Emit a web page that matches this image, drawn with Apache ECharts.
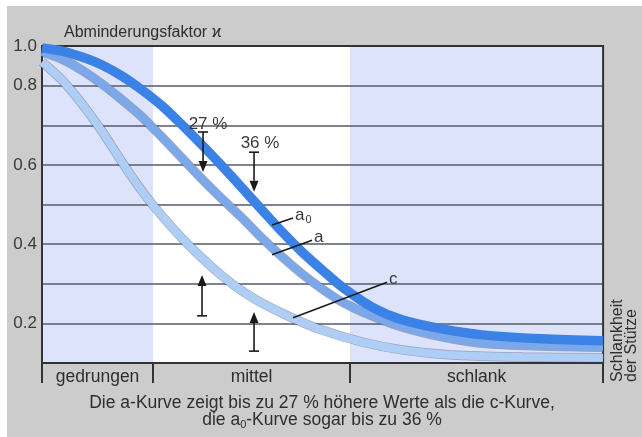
<!DOCTYPE html>
<html>
<head>
<meta charset="utf-8">
<script src="https://cdn.jsdelivr.net/npm/echarts@6/dist/echarts.min.js"></script>
<style>
  body { margin: 0; background: #fff; }
  #wrap { position: relative; width: 642px; height: 437px; }
  #backdrop { position: absolute; left: 7px; top: 6px; right: 0; bottom: 0; background: #cccccc; }
  #chart { position: absolute; left: 0; top: 0; width: 642px; height: 437px; }
</style>
</head>
<body>
<div id="wrap"><div id="backdrop"></div><div id="chart"></div></div>
<script>
// Schematic buckling curves: reduction factor vs. slenderness
var FONT = "'Liberation Sans', Arial, sans-serif";

var regionEdges = [0, 11.1, 30.8, 56.1];
var regionNames = ["gedrungen", "mittel", "schlank"];
var regionColors = ["#dde3fb", "#ffffff", "#dde3fb"];

// y ticks every 0.1 from 0.1 to 0.9, the top one is labelled 1.0
var yTickLabels = ["", "0.2", "", "0.4", "", "0.6", "", "0.8", "1.0"];

var slenderness = [0, 2, 4, 6, 8, 10, 12, 14, 16, 18, 20, 22, 24, 26, 28, 30, 33, 36, 40, 44, 50, 56.1];
var kappaA0 = [0.895, 0.887, 0.872, 0.852, 0.824, 0.789, 0.749, 0.701, 0.650, 0.597, 0.542,
  0.486, 0.431, 0.380, 0.335, 0.292, 0.241, 0.209, 0.186, 0.171, 0.161, 0.156];
var kappaA = [0.885, 0.867, 0.839, 0.804, 0.764, 0.721, 0.670, 0.617, 0.564, 0.514, 0.466,
  0.415, 0.368, 0.325, 0.287, 0.254, 0.219, 0.191, 0.166, 0.150, 0.143, 0.140];

var slendernessC = [0, 2, 4, 6, 8, 10, 12, 14, 16, 18, 20, 22, 25, 28, 32, 36, 41, 48, 56.1];
var kappaC = [0.860, 0.814, 0.754, 0.685, 0.607, 0.534, 0.471, 0.415, 0.365, 0.320, 0.282,
  0.251, 0.214, 0.183, 0.153, 0.133, 0.120, 0.115, 0.113];

// arrows: [x, y of tail bar, y of tip]
var arrows = [[16.1, 0.683, 0.582], [21.2, 0.632, 0.532], [16.0, 0.219, 0.322], [21.2, 0.130, 0.229]];
var percentPos = [[16.6, 0.703], [21.8, 0.655]];
var percentText = ["27 %", "36 %"];

// leader lines: [x1, y1, x2, y2] and the curve names at their ends
var leaders = [[23.0, 0.448, 25.1, 0.466], [23.0, 0.373, 27.0, 0.410], [25.1, 0.214, 34.5, 0.304]];
var leaderText = ["a{sub|0}", "a", "c"];

function pairs(xs, ys) {
  return xs.map(function (x, i) { return [x, ys[i]]; });
}

var chart = echarts.init(document.getElementById("chart"));

var regionAreas = regionNames.map(function (name, i) {
  return [{ xAxis: regionEdges[i], itemStyle: { color: regionColors[i] } }, { xAxis: regionEdges[i + 1] }];
});
var regionMids = regionNames.map(function (name, i) {
  return (regionEdges[i] + regionEdges[i + 1]) / 2;
});

function renderArrow(params, api) {
  var tail = api.coord([api.value(0), api.value(1)]);
  var tip = api.coord([api.value(0), api.value(2)]);
  var dir = tip[1] > tail[1] ? 1 : -1;
  var headLen = 11, headHalf = 4.5, barHalf = 5;
  var st = { stroke: "#1a1a1a", lineWidth: 1.6 };
  return {
    type: "group",
    children: [
      { type: "line", shape: { x1: tail[0], y1: tail[1], x2: tip[0], y2: tip[1] - dir * headLen }, style: st },
      { type: "line", shape: { x1: tail[0] - barHalf, y1: tail[1], x2: tail[0] + barHalf, y2: tail[1] }, style: st },
      { type: "polygon", shape: { points: [[tip[0], tip[1]], [tip[0] - headHalf, tip[1] - dir * headLen], [tip[0] + headHalf, tip[1] - dir * headLen]] },
        style: { fill: "#1a1a1a" } }
    ]
  };
}

function renderLeader(params, api) {
  var p1 = api.coord([api.value(0), api.value(1)]);
  var p2 = api.coord([api.value(2), api.value(3)]);
  return {
    type: "group",
    children: [
      { type: "line", shape: { x1: p1[0], y1: p1[1], x2: p2[0], y2: p2[1] }, style: { stroke: "#1a1a1a", lineWidth: 1.6 } },
      { type: "text", style: {
          text: leaderText[params.dataIndex], x: p2[0] + 2, y: p2[1] - 3,
          fill: "#3a3a3a", fontSize: 17, fontFamily: FONT, align: "left", verticalAlign: "middle",
          rich: { sub: { fontSize: 11, fontFamily: FONT, fill: "#3a3a3a", padding: [9, 0, 0, 1] } }
        } }
    ]
  };
}

function renderPercent(params, api) {
  var p = api.coord([api.value(0), api.value(1)]);
  return { type: "text", style: {
    text: percentText[params.dataIndex], x: p[0], y: p[1],
    fill: "#3a3a3a", fontSize: 17, fontFamily: FONT, align: "center", verticalAlign: "middle"
  } };
}

function curve(xs, ys, color, width) {
  return { type: "line", data: pairs(xs, ys), smooth: 0.3, showSymbol: false, silent: true,
    lineStyle: { color: color, width: width } };
}

var option = {
  animation: false,
  textStyle: { fontFamily: FONT },
  title: {
    text: "Abminderungsfaktor ϰ", left: 59, top: 20,
    textStyle: { fontSize: 16, fontWeight: "normal", color: "#2e2e2e", fontFamily: FONT }
  },
  grid: { left: 42, right: 38.9, top: 46, bottom: 74, show: true, z: 3,
    backgroundColor: "transparent", borderColor: "#333", borderWidth: 2 },
  xAxis: {
    type: "value", min: regionEdges[0], max: regionEdges[3], z: 1.6,
    splitLine: { show: false },
    axisLine: { show: true, lineStyle: { color: "#333", width: 2 } },
    axisTick: { show: true, customValues: regionEdges, length: 20, lineStyle: { color: "#333", width: 2 } },
    axisLabel: { customValues: regionMids, margin: 5, fontSize: 17.5, color: "#2e2e2e", fontFamily: FONT,
      formatter: function (v) {
        var i = regionMids.findIndex(function (m) { return Math.abs(m - v) < 1e-6; });
        return i >= 0 ? regionNames[i] : "";
      } }
  },
  yAxis: {
    type: "value", min: 0.1, max: 0.9, interval: 0.1, z: 1.5,
    axisLine: { show: true, lineStyle: { color: "#333", width: 2 } },
    axisTick: { show: false },
    splitLine: { show: true, lineStyle: { color: "rgba(95,100,115,0.8)", width: 1.8 } },
    axisLabel: { margin: 5, fontSize: 17, color: "#3a3a3a", fontFamily: FONT,
      formatter: function (v) { return yTickLabels[Math.round((v - 0.1) / 0.1)] || ""; } }
  },
  graphic: [
    { type: "text", x: 611, y: 382, rotation: Math.PI / 2,
      style: { text: "Schlankheit\nder Stütze", fill: "#2e2e2e", fontSize: 16, fontFamily: FONT, lineHeight: 14 } },
    { type: "text", x: 322, y: 395,
      style: { text: "Die a-Kurve zeigt bis zu 27 % höhere Werte als die c-Kurve,\ndie a{sub|0}-Kurve sogar bis zu 36 %",
        fill: "#2e2e2e", fontSize: 17.5, fontFamily: FONT, lineHeight: 17, align: "center",
        rich: { sub: { fontSize: 11, fontFamily: FONT, fill: "#2e2e2e", padding: [8, 0, 0, 0] } } } }
  ],
  series: [
    { type: "line", data: [], markArea: { silent: true, z: 1, data: regionAreas } },
    curve(slendernessC, kappaC, "rgba(70,80,110,0.45)", 9.5),
    curve(slendernessC, kappaC, "#aecef6", 8),
    curve(slenderness, kappaA, "rgba(70,80,110,0.45)", 9.5),
    curve(slenderness, kappaA, "#7ca8ea", 8),
    curve(slenderness, kappaA0, "#3b82e6", 9.5),
    { type: "custom", data: arrows, renderItem: renderArrow, z: 4 },
    { type: "custom", data: leaders, renderItem: renderLeader, z: 4 },
    { type: "custom", data: percentPos, renderItem: renderPercent, z: 4 }
  ]
};

chart.setOption(option);
</script>
</body>
</html>
